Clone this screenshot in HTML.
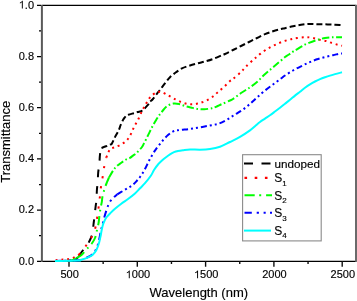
<!DOCTYPE html>
<html><head><meta charset="utf-8"><style>
html,body{margin:0;padding:0;background:#fff;}
svg{display:block;}
text{font-family:"Liberation Sans", sans-serif;fill:#000;}
</style></head><body>
<svg width="357" height="301" viewBox="0 0 357 301">
<defs>
<filter id="b" x="0" y="0" width="357" height="301" filterUnits="userSpaceOnUse"><feGaussianBlur stdDeviation="0.35"/></filter>
<filter id="t" x="0" y="0" width="357" height="301" filterUnits="userSpaceOnUse"><feGaussianBlur stdDeviation="0.2"/></filter>
</defs>
<rect width="357" height="301" fill="#fff"/>
<g filter="url(#b)">
<rect width="357" height="301" fill="#fff"/>
<path d="M41.5,5.4 H356.5 M41.5,261.3 H356.5" stroke="#000" stroke-width="1.15" fill="none"/>
<path d="M41.9,4.9 V261.8" stroke="#5a5a5a" stroke-width="2" fill="none"/>
<path d="M356,4.9 V261.8" stroke="#6a6a6a" stroke-width="2" fill="none"/>
<path d="M37,261.3 H41 M37,210.1 H41 M37,158.9 H41 M37,107.7 H41 M37,56.5 H41 M37,5.4 H41 M39,235.7 H41 M39,184.5 H41 M39,133.3 H41 M39,82.1 H41 M39,30.9 H41" stroke="#000" stroke-width="1.25" fill="none"/>
<path d="M69.00,261.5 V266.7 M137.30,261.5 V266.7 M205.60,261.5 V266.7 M273.90,261.5 V266.7 M342.20,261.5 V266.7 M103.15,261.5 V264 M171.45,261.5 V264 M239.75,261.5 V264 M308.05,261.5 V264" stroke="#111" stroke-width="1.4" fill="none"/>
<path d="M55.00,261.00C57.50,260.95 66.67,260.90 70.00,260.70C73.33,260.50 73.50,260.58 75.00,259.80C76.50,259.02 78.33,256.63 79.00,256.00" stroke="#000000" stroke-width="2" fill="none" stroke-dasharray="6 3"/><path d="M79.00,256.00C79.50,255.25 81.00,252.83 82.00,251.50C83.00,250.17 83.83,249.58 85.00,248.00C86.17,246.42 87.75,244.42 89.00,242.00C90.25,239.58 91.75,236.42 92.50,233.50C93.25,230.58 93.17,227.33 93.50,224.50C93.83,221.67 94.17,219.33 94.50,216.50C94.83,213.67 95.17,210.33 95.50,207.50C95.83,204.67 96.27,202.42 96.50,199.50C96.73,196.58 96.70,192.83 96.90,190.00C97.10,187.17 97.48,185.42 97.70,182.50C97.92,179.58 97.93,175.42 98.20,172.50C98.47,169.58 99.03,167.63 99.30,165.00C99.57,162.37 99.60,159.07 99.80,156.70C100.00,154.33 100.22,152.25 100.50,150.80C100.78,149.35 101.33,148.47 101.50,148.00" stroke="#000000" stroke-width="2" fill="none" stroke-dasharray="7.6 9"/><path d="M101.50,148.00C102.25,147.72 104.58,146.87 106.00,146.30C107.42,145.73 109.05,145.00 110.00,144.60C110.95,144.20 110.87,145.15 111.70,143.90C112.53,142.65 113.83,139.35 115.00,137.10C116.17,134.85 117.77,132.38 118.70,130.40C119.63,128.42 119.88,126.93 120.60,125.20C121.32,123.47 122.32,121.28 123.00,120.00C123.68,118.72 124.12,118.23 124.70,117.50C125.28,116.77 125.88,116.07 126.50,115.60C127.12,115.13 127.22,115.10 128.40,114.70C129.58,114.30 132.20,113.60 133.60,113.20C135.00,112.80 135.90,112.55 136.80,112.30C137.70,112.05 138.02,112.03 139.00,111.70C139.98,111.37 141.25,111.38 142.70,110.30C144.15,109.22 146.48,106.62 147.70,105.20C148.92,103.78 149.20,102.75 150.00,101.80C150.80,100.85 151.42,100.75 152.50,99.50C153.58,98.25 155.20,95.97 156.50,94.30C157.80,92.63 158.82,91.42 160.30,89.50C161.78,87.58 163.78,84.85 165.40,82.80C167.02,80.75 168.23,78.95 170.00,77.20C171.77,75.45 174.00,73.77 176.00,72.30C178.00,70.83 179.67,69.53 182.00,68.40C184.33,67.27 187.33,66.35 190.00,65.50C192.67,64.65 195.33,64.02 198.00,63.30C200.67,62.58 203.33,61.98 206.00,61.20C208.67,60.42 211.33,59.60 214.00,58.60C216.67,57.60 220.17,55.97 222.00,55.20C223.83,54.43 223.17,54.87 225.00,54.00C226.83,53.13 230.33,51.33 233.00,50.00C235.67,48.67 238.33,47.33 241.00,46.00C243.67,44.67 246.33,43.33 249.00,42.00C251.67,40.67 254.33,39.30 257.00,38.00C259.67,36.70 262.33,35.33 265.00,34.20C267.67,33.07 270.33,32.07 273.00,31.20C275.67,30.33 279.00,29.50 281.00,29.00C283.00,28.50 283.00,28.65 285.00,28.20C287.00,27.75 290.33,26.87 293.00,26.30C295.67,25.73 298.33,25.18 301.00,24.80C303.67,24.42 306.33,24.10 309.00,24.00C311.67,23.90 314.33,24.15 317.00,24.20C319.67,24.25 322.33,24.23 325.00,24.30C327.67,24.37 330.50,24.48 333.00,24.60C335.50,24.72 338.50,24.90 340.00,25.00C341.50,25.10 341.67,25.17 342.00,25.20" stroke="#000000" stroke-width="2" fill="none" stroke-dasharray="6 3"/>
<path d="M55.60,260.20C56.53,260.12 59.33,259.85 61.20,259.70C63.07,259.55 64.73,259.63 66.80,259.30C68.87,258.97 71.57,258.50 73.60,257.70C75.63,256.90 78.10,255.03 79.00,254.50" stroke="#ff0000" stroke-width="2" fill="none" stroke-dasharray="2 3.8"/><path d="M79.00,254.50C79.92,253.42 82.97,250.08 84.50,248.00C86.03,245.92 86.87,244.08 88.20,242.00C89.53,239.92 91.25,238.07 92.50,235.50C93.75,232.93 94.92,229.67 95.70,226.60C96.48,223.53 96.70,220.43 97.20,217.10C97.70,213.77 98.25,210.00 98.70,206.60C99.15,203.20 99.52,200.02 99.90,196.70C100.28,193.38 100.53,190.03 101.00,186.70C101.47,183.37 102.17,180.03 102.70,176.70C103.23,173.37 103.60,169.90 104.20,166.70C104.80,163.50 105.95,159.03 106.30,157.50" stroke="#ff0000" stroke-width="2" fill="none" stroke-dasharray="2.2 8"/><path d="M106.30,157.50C106.92,156.13 108.55,151.02 110.00,149.30C111.45,147.58 113.18,147.98 115.00,147.20C116.82,146.42 118.97,145.70 120.90,144.60C122.83,143.50 124.98,142.27 126.60,140.60C128.22,138.93 129.35,136.88 130.60,134.60C131.85,132.32 132.82,129.47 134.10,126.90C135.38,124.33 136.90,122.02 138.30,119.20C139.70,116.38 141.17,112.65 142.50,110.00C143.83,107.35 144.92,105.55 146.30,103.30C147.68,101.05 149.07,98.30 150.80,96.50C152.53,94.70 154.88,93.25 156.70,92.50C158.52,91.75 159.80,91.53 161.70,92.00C163.60,92.47 165.80,94.07 168.10,95.30C170.40,96.53 173.22,98.23 175.50,99.40C177.78,100.57 179.77,101.53 181.80,102.30C183.83,103.07 185.88,103.67 187.70,104.00C189.52,104.33 191.07,104.37 192.70,104.30C194.33,104.23 195.93,103.93 197.50,103.60C199.07,103.27 200.40,102.93 202.10,102.30C203.80,101.67 205.83,100.80 207.70,99.80C209.57,98.80 211.58,97.60 213.30,96.30C215.02,95.00 216.22,93.55 218.00,92.00C219.78,90.45 222.00,88.83 224.00,87.00C226.00,85.17 228.50,82.33 230.00,81.00C231.50,79.67 231.17,80.50 233.00,79.00C234.83,77.50 238.83,74.08 241.00,72.00C243.17,69.92 244.00,68.50 246.00,66.50C248.00,64.50 251.17,61.65 253.00,60.00C254.83,58.35 255.73,57.67 257.00,56.60C258.27,55.53 259.07,54.77 260.60,53.60C262.13,52.43 264.45,50.73 266.20,49.60C267.95,48.47 269.35,47.70 271.10,46.80C272.85,45.90 274.83,45.03 276.70,44.20C278.57,43.37 280.43,42.50 282.30,41.80C284.17,41.10 286.15,40.50 287.90,40.00C289.65,39.50 291.28,39.13 292.80,38.80C294.32,38.47 295.25,38.25 297.00,38.00C298.75,37.75 301.55,37.43 303.30,37.30C305.05,37.17 305.88,37.08 307.50,37.20C309.12,37.32 311.08,37.60 313.00,38.00C314.92,38.40 316.83,39.10 319.00,39.60C321.17,40.10 323.83,40.43 326.00,41.00C328.17,41.57 330.00,42.37 332.00,43.00C334.00,43.63 336.33,44.33 338.00,44.80C339.67,45.27 341.33,45.63 342.00,45.80" stroke="#ff0000" stroke-width="2" fill="none" stroke-dasharray="2 3.8"/>
<path d="M55.00,261.00C57.50,260.93 66.33,261.10 70.00,260.60C73.67,260.10 75.83,258.43 77.00,258.00" stroke="#00ff00" stroke-width="2" fill="none" stroke-dasharray="7.5 2.6 1.6 2.6"/><path d="M77.00,258.00C77.75,257.50 80.17,256.17 81.50,255.00C82.83,253.83 83.67,252.50 85.00,251.00C86.33,249.50 88.25,247.42 89.50,246.00C90.75,244.58 91.58,243.83 92.50,242.50C93.42,241.17 94.33,239.75 95.00,238.00C95.67,236.25 95.92,234.42 96.50,232.00C97.08,229.58 98.05,225.92 98.50,223.50C98.95,221.08 98.87,220.08 99.20,217.50C99.53,214.92 100.07,210.55 100.50,208.00C100.93,205.45 101.47,204.12 101.80,202.20C102.13,200.28 101.97,198.95 102.50,196.50C103.03,194.05 104.25,189.88 105.00,187.50C105.75,185.12 106.33,183.87 107.00,182.20C107.67,180.53 108.67,178.28 109.00,177.50" stroke="#00ff00" stroke-width="2" fill="none" stroke-dasharray="9.5 4.5 1.6 4.5"/><path d="M109.00,177.50C109.75,176.25 112.17,171.92 113.50,170.00C114.83,168.08 115.75,167.17 117.00,166.00C118.25,164.83 119.50,164.08 121.00,163.00C122.50,161.92 124.50,160.37 126.00,159.50C127.50,158.63 128.83,158.45 130.00,157.80C131.17,157.15 132.00,156.33 133.00,155.60C134.00,154.87 135.00,154.27 136.00,153.40C137.00,152.53 138.00,151.47 139.00,150.40C140.00,149.33 141.17,148.17 142.00,147.00C142.83,145.83 143.00,145.33 144.00,143.40C145.00,141.47 146.67,138.08 148.00,135.40C149.33,132.72 150.67,129.83 152.00,127.30C153.33,124.77 154.67,122.38 156.00,120.20C157.33,118.02 158.72,115.98 160.00,114.20C161.28,112.42 162.45,110.90 163.70,109.50C164.95,108.10 165.88,106.78 167.50,105.80C169.12,104.82 171.48,103.90 173.40,103.60C175.32,103.30 177.02,103.58 179.00,104.00C180.98,104.42 183.32,105.52 185.30,106.10C187.28,106.68 188.92,107.03 190.90,107.50C192.88,107.97 194.98,108.60 197.20,108.90C199.42,109.20 201.75,109.42 204.20,109.30C206.65,109.18 209.93,108.62 211.90,108.20C213.87,107.78 214.32,107.50 216.00,106.80C217.68,106.10 219.67,105.05 222.00,104.00C224.33,102.95 228.17,101.33 230.00,100.50C231.83,99.67 231.17,100.25 233.00,99.00C234.83,97.75 238.33,94.83 241.00,93.00C243.67,91.17 246.33,89.83 249.00,88.00C251.67,86.17 254.50,84.17 257.00,82.00C259.50,79.83 261.67,77.17 264.00,75.00C266.33,72.83 268.67,71.00 271.00,69.00C273.33,67.00 275.83,64.83 278.00,63.00C280.17,61.17 282.83,59.00 284.00,58.00C285.17,57.00 284.17,57.58 285.00,57.00C285.83,56.42 287.67,55.40 289.00,54.50C290.33,53.60 291.67,52.47 293.00,51.60C294.33,50.73 295.40,50.25 297.00,49.30C298.60,48.35 300.60,46.98 302.60,45.90C304.60,44.82 306.60,43.78 309.00,42.80C311.40,41.82 314.33,40.80 317.00,40.00C319.67,39.20 322.33,38.47 325.00,38.00C327.67,37.53 330.17,37.33 333.00,37.20C335.83,37.07 340.50,37.20 342.00,37.20" stroke="#00ff00" stroke-width="2" fill="none" stroke-dasharray="7.5 2.6 1.6 2.6"/>
<path d="M55.00,261.00 L81.00,260.20" stroke="#0000ff" stroke-width="2" fill="none" stroke-dasharray="6 3 2 3 2 3"/><path d="M86.50,257.80C87.42,257.30 90.42,256.18 92.00,254.80C93.58,253.42 94.95,251.42 96.00,249.50C97.05,247.58 97.67,245.47 98.30,243.30C98.93,241.13 99.35,238.72 99.80,236.50C100.25,234.28 100.57,231.88 101.00,230.00C101.43,228.12 101.87,227.25 102.40,225.20C102.93,223.15 103.52,220.22 104.20,217.70C104.88,215.18 105.63,212.62 106.50,210.10C107.37,207.58 108.23,204.67 109.40,202.60C110.57,200.53 112.18,199.08 113.50,197.70C114.82,196.32 116.67,194.87 117.30,194.30" stroke="#0000ff" stroke-width="2" fill="none" stroke-dasharray="7 4 2 4 2 4"/><path d="M117.30,194.30C118.08,193.83 120.22,192.55 122.00,191.50C123.78,190.45 126.22,189.08 128.00,188.00C129.78,186.92 131.25,186.17 132.70,185.00C134.15,183.83 135.48,182.33 136.70,181.00C137.92,179.67 138.70,178.83 140.00,177.00C141.30,175.17 142.93,172.83 144.50,170.00C146.07,167.17 147.92,162.83 149.40,160.00C150.88,157.17 152.38,154.70 153.40,153.00C154.42,151.30 154.15,151.63 155.50,149.80C156.85,147.97 159.42,144.47 161.50,142.00C163.58,139.53 165.92,136.83 168.00,135.00C170.08,133.17 172.00,131.83 174.00,131.00C176.00,130.17 177.33,130.35 180.00,130.00C182.67,129.65 186.67,129.35 190.00,128.90C193.33,128.45 196.67,127.87 200.00,127.30C203.33,126.73 206.83,126.13 210.00,125.50C213.17,124.87 216.17,124.48 219.00,123.50C221.83,122.52 224.33,121.10 227.00,119.60C229.67,118.10 232.33,116.18 235.00,114.50C237.67,112.82 240.33,111.42 243.00,109.50C245.67,107.58 248.67,105.00 251.00,103.00C253.33,101.00 254.67,99.58 257.00,97.50C259.33,95.42 262.33,92.67 265.00,90.50C267.67,88.33 270.33,86.50 273.00,84.50C275.67,82.50 279.00,80.00 281.00,78.50C283.00,77.00 283.00,76.83 285.00,75.50C287.00,74.17 290.33,72.03 293.00,70.50C295.67,68.97 298.33,67.63 301.00,66.30C303.67,64.97 306.33,63.67 309.00,62.50C311.67,61.33 314.33,60.22 317.00,59.30C319.67,58.38 322.33,57.68 325.00,57.00C327.67,56.32 330.50,55.78 333.00,55.20C335.50,54.62 338.50,53.78 340.00,53.50C341.50,53.22 341.67,53.50 342.00,53.50" stroke="#0000ff" stroke-width="2" fill="none" stroke-dasharray="6 3 2 3 2 3"/>
<path d="M55.00,261.00C58.83,260.93 73.67,260.80 78.00,260.60C82.33,260.40 79.50,260.27 81.00,259.80C82.50,259.33 85.08,258.60 87.00,257.80C88.92,257.00 90.92,256.35 92.50,255.00C94.08,253.65 95.42,251.70 96.50,249.70C97.58,247.70 98.32,245.28 99.00,243.00C99.68,240.72 100.12,238.33 100.60,236.00C101.08,233.67 101.40,231.18 101.90,229.00C102.40,226.82 102.83,224.85 103.60,222.90C104.37,220.95 105.43,218.87 106.50,217.30C107.57,215.73 108.63,214.88 110.00,213.50C111.37,212.12 112.82,210.63 114.70,209.00C116.58,207.37 119.08,205.37 121.30,203.70C123.52,202.03 125.77,200.67 128.00,199.00C130.23,197.33 132.70,195.48 134.70,193.70C136.70,191.92 138.28,190.05 140.00,188.30C141.72,186.55 143.17,185.33 145.00,183.20C146.83,181.07 149.50,177.70 151.00,175.50C152.50,173.30 152.83,171.83 154.00,170.00C155.17,168.17 156.67,166.08 158.00,164.50C159.33,162.92 160.67,161.72 162.00,160.50C163.33,159.28 164.67,158.23 166.00,157.20C167.33,156.17 168.67,155.13 170.00,154.30C171.33,153.47 172.67,152.75 174.00,152.20C175.33,151.65 176.50,151.33 178.00,151.00C179.50,150.67 181.00,150.47 183.00,150.20C185.00,149.93 187.17,149.48 190.00,149.40C192.83,149.32 196.67,149.75 200.00,149.70C203.33,149.65 206.67,149.58 210.00,149.10C213.33,148.62 216.67,147.98 220.00,146.80C223.33,145.62 226.67,143.65 230.00,142.00C233.33,140.35 236.67,138.83 240.00,136.90C243.33,134.97 247.50,132.18 250.00,130.40C252.50,128.62 253.33,127.60 255.00,126.20C256.67,124.80 258.33,123.27 260.00,122.00C261.67,120.73 263.33,119.73 265.00,118.60C266.67,117.47 268.33,116.38 270.00,115.20C271.67,114.02 273.33,112.75 275.00,111.50C276.67,110.25 278.33,108.98 280.00,107.70C281.67,106.42 283.33,105.12 285.00,103.80C286.67,102.48 288.33,101.17 290.00,99.80C291.67,98.43 293.33,96.95 295.00,95.60C296.67,94.25 298.33,93.02 300.00,91.70C301.67,90.38 303.33,88.93 305.00,87.70C306.67,86.47 308.33,85.33 310.00,84.30C311.67,83.27 313.33,82.35 315.00,81.50C316.67,80.65 318.33,79.90 320.00,79.20C321.67,78.50 323.33,77.90 325.00,77.30C326.67,76.70 328.33,76.13 330.00,75.60C331.67,75.07 333.00,74.65 335.00,74.10C337.00,73.55 340.83,72.60 342.00,72.30" stroke="#00ffff" stroke-width="2" fill="none"/>
<rect x="242.6" y="154.7" width="78.6" height="86.2" fill="#fff" stroke="#8a8a8a" stroke-width="1.1"/><path d="M244,163.5 H270.7" stroke="#000" stroke-width="2" stroke-dasharray="9 8.5"/><path d="M244.5,177.8 H270.5" stroke="#f00" stroke-width="2.2" stroke-dasharray="2.6 7.6"/><path d="M244.5,195.2 H272" stroke="#0f0" stroke-width="2" stroke-dasharray="10.2 4.5 2 4.9 6 10"/><path d="M244.5,212.8 H272" stroke="#00f" stroke-width="2" stroke-dasharray="7.3 4.9 2.2 4.7 2.1 4.3 2 10"/><path d="M244,230.6 H271" stroke="#0ff" stroke-width="2"/>
</g>
<g filter="url(#t)" stroke="#000" stroke-width="0.15">
<text x="18.71" y="264.50" font-size="11">0.0</text>
<text x="18.71" y="213.30" font-size="11">0.2</text>
<text x="18.71" y="162.10" font-size="11">0.4</text>
<text x="18.71" y="110.90" font-size="11">0.6</text>
<text x="18.71" y="59.70" font-size="11">0.8</text>
<text x="18.71" y="8.50" font-size="11">&#x2007;.0</text><path transform="translate(18.71,8.50) scale(0.005371,-0.005371)" d="M763,0H583V1147Q518,1085 412,1023Q307,961 223,930V1104Q374,1175 487,1276Q600,1377 647,1466H763Z"/>
<text x="60.42" y="278.30" font-size="11">500</text>
<text x="125.66" y="278.30" font-size="11">&#x2007;000</text><path transform="translate(125.66,278.30) scale(0.005371,-0.005371)" d="M763,0H583V1147Q518,1085 412,1023Q307,961 223,930V1104Q374,1175 487,1276Q600,1377 647,1466H763Z"/>
<text x="193.96" y="278.30" font-size="11">&#x2007;500</text><path transform="translate(193.96,278.30) scale(0.005371,-0.005371)" d="M763,0H583V1147Q518,1085 412,1023Q307,961 223,930V1104Q374,1175 487,1276Q600,1377 647,1466H763Z"/>
<text x="262.26" y="278.30" font-size="11">2000</text>
<text x="330.56" y="278.30" font-size="11">2500</text>
<text x="198.8" y="297.3" font-size="13" text-anchor="middle">Wavelength (nm)</text>
<text transform="translate(10,141.8) rotate(-90)" font-size="13" text-anchor="middle">Transmittance</text>
<text x="274.5" y="167.8" font-size="11.7">undoped</text>
<text x="274.3" y="182.1" font-size="12">S<tspan font-size="8" dy="3.5">1</tspan></text>
<text x="274.3" y="199.5" font-size="12">S<tspan font-size="8" dy="3.5">2</tspan></text>
<text x="274.3" y="217.1" font-size="12">S<tspan font-size="8" dy="3.5">3</tspan></text>
<text x="274.3" y="234.9" font-size="12">S<tspan font-size="8" dy="3.5">4</tspan></text>
</g>
</svg>
</body></html>
